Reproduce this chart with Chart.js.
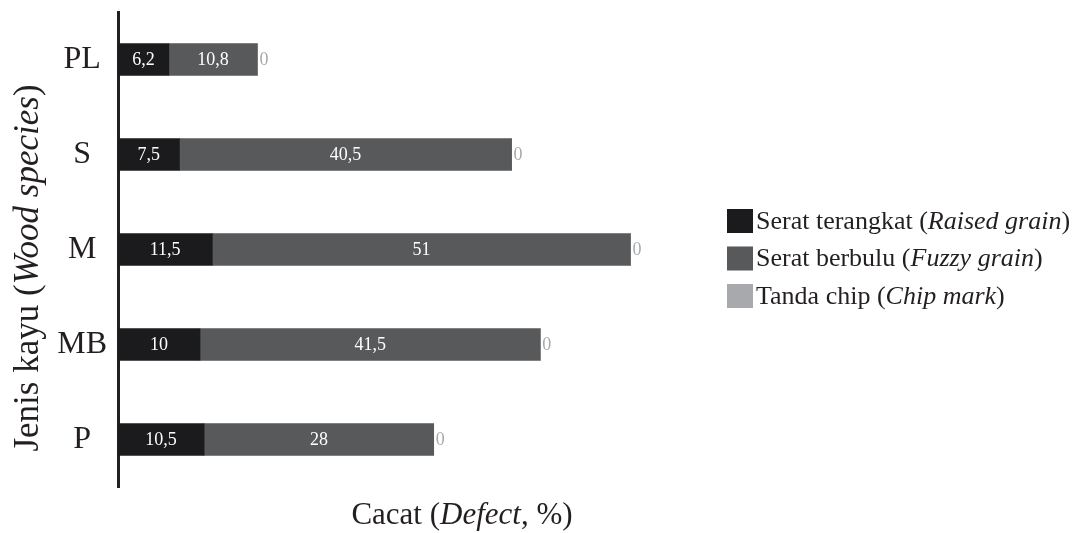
<!DOCTYPE html>
<html>
<head>
<meta charset="utf-8">
<script src="https://cdn.jsdelivr.net/npm/chart.js@4.4.1/dist/chart.umd.min.js"></script>
<style>
  html, body { margin: 0; padding: 0; background: #fff; }
  #wrap { width: 1074px; height: 533px; }
</style>
</head>
<body>
<div id="wrap"><canvas id="c"></canvas></div>
<script>
// ── Data ──────────────────────────────────────────────────────────────
const species = ["PL", "S", "M", "MB", "P"];
const raisedGrain = [6.2, 7.5, 11.5, 10, 10.5];
const fuzzyGrain = [10.8, 40.5, 51, 41.5, 28];
const chipMark = [0, 0, 0, 0, 0];

// Text pieces: [text, italic?]
const legendRaised = [["Serat terangkat (", false], ["Raised grain", true], [")", false]];
const legendFuzzy = [["Serat berbulu (", false], ["Fuzzy grain", true], [")", false]];
const legendChip = [["Tanda chip (", false], ["Chip mark", true], [")", false]];
const xTitle = [["Cacat (", false], ["Defect", true], [", %)", false]];
const yTitle = [["Jenis kayu (", false], ["Wood species", true], [")", false]];

const SERIF = '"Liberation Serif", "DejaVu Serif", serif';
const INK = "#231f20";

// Draw a line of mixed upright/italic text, aligned on its total width.
function drawRich(ctx, parts, x, y, size, align) {
  const fontOf = (it) => (it ? "italic " : "") + size + "px " + SERIF;
  let total = 0;
  parts.forEach(([t, it]) => { ctx.font = fontOf(it); total += ctx.measureText(t).width; });
  let cx = align === "center" ? x - total / 2 : x;
  ctx.textAlign = "left";
  parts.forEach(([t, it]) => {
    ctx.font = fontOf(it);
    ctx.fillText(t, cx, y);
    cx += ctx.measureText(t).width;
  });
}

// Value labels: white inside the bars, grey after the end for the zero series.
const barLabels = {
  id: "barLabels",
  afterDatasetsDraw(chart) {
    const ctx = chart.ctx;
    ctx.save();
    ctx.font = "18px " + SERIF;
    ctx.textBaseline = "middle";
    chart.data.datasets.forEach((ds, i) => {
      chart.getDatasetMeta(i).data.forEach((bar, j) => {
        const txt = String(ds.data[j]).replace(".", ",");
        if (i < 2) {
          ctx.fillStyle = "#ffffff";
          ctx.textAlign = "center";
          ctx.fillText(txt, (bar.x + bar.base) / 2, bar.y + 1);
        } else {
          ctx.fillStyle = "#a7a9ac";
          ctx.textAlign = "left";
          ctx.fillText(txt, bar.x + 2, bar.y + 1);
        }
      });
    });
    ctx.restore();
  },
};

// Axis titles and legend (mixed italic, so drawn by hand).
const extras = {
  id: "extras",
  afterDraw(chart) {
    const ctx = chart.ctx;
    ctx.save();
    ctx.fillStyle = INK;
    ctx.textBaseline = "alphabetic";
    drawRich(ctx, xTitle, 462, 524, 31, "center");

    ctx.save();
    ctx.translate(38, 268);
    ctx.rotate(-Math.PI / 2);
    drawRich(ctx, yTitle, 0, 0, 35, "center");
    ctx.restore();

    const rows = [legendRaised, legendFuzzy, legendChip];
    ctx.textBaseline = "middle";
    rows.forEach((parts, i) => {
      const cy = 221 + i * 37.5;
      ctx.fillStyle = chart.data.datasets[i].backgroundColor;
      ctx.fillRect(727, cy - 12, 26, 24);
      ctx.fillStyle = INK;
      drawRich(ctx, parts, 756, cy + 1, 26, "left");
    });
    ctx.restore();
  },
};

new Chart(document.getElementById("c"), {
  type: "bar",
  data: {
    labels: species,
    datasets: [
      { label: "Serat terangkat", data: raisedGrain, backgroundColor: "#1b1b1d", barThickness: 32 },
      { label: "Serat berbulu", data: fuzzyGrain, backgroundColor: "#58595b", barThickness: 32 },
      { label: "Tanda chip", data: chipMark, backgroundColor: "#a7a9ac", barThickness: 32 },
    ],
  },
  options: {
    indexAxis: "y",
    responsive: true,
    maintainAspectRatio: false,
    animation: false,
    layout: { padding: { top: 12, bottom: 46, left: 0, right: 382 } },
    plugins: { legend: { display: false }, tooltip: { enabled: false } },
    scales: {
      x: { stacked: true, display: false, min: 0, max: 70 },
      y: {
        stacked: true,
        grid: { display: false, drawTicks: false },
        border: { display: true, width: 3, color: INK },
        ticks: {
          color: INK,
          font: { family: SERIF, size: 32 },
          padding: 11,
          crossAlign: "center",
        },
        // fixed axis width, and no extra room for half-label overflow
        afterFit: (s) => {
          s.width = 118;
          s.paddingTop = 0;
          s.paddingBottom = 0;
        },
      },
    },
  },
  plugins: [barLabels, extras],
});
</script>
</body>
</html>
